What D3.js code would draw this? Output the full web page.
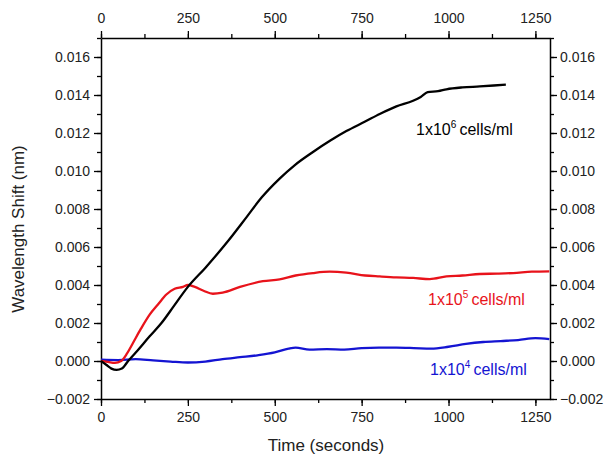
<!DOCTYPE html>
<html>
<head>
<meta charset="utf-8">
<script src="https://cdn.jsdelivr.net/npm/d3@7"></script>
<style>
  body { margin: 0; background: #fff; }
  svg { display: block; font-family: "Liberation Sans", Arial, sans-serif; }
</style>
</head>
<body>
<svg id="chart" width="604" height="454"></svg>
<script>
// ---- Data ----
const xTicks = [0, 250, 500, 750, 1000, 1250];
const yTicks = [-0.002, 0.000, 0.002, 0.004, 0.006, 0.008, 0.010, 0.012, 0.014, 0.016];

const time1e6 = [0, 15, 30, 45, 60, 78, 100, 140, 174, 210, 250, 300, 365, 420, 462, 514, 557, 610, 660, 706, 760, 802, 850, 898, 920, 940, 970, 994, 1040, 1090, 1130, 1165];
const shift1e6 = [0, -0.0002, -0.0004, -0.00047, -0.0004, 0.0, 0.00045, 0.0013, 0.0020, 0.0029, 0.0039, 0.0049, 0.0063, 0.0076, 0.0086, 0.0096, 0.0103, 0.0110, 0.0116, 0.0121, 0.0126, 0.0130, 0.0134, 0.0137, 0.0139, 0.01415, 0.0142, 0.0143, 0.0144, 0.01445, 0.0145, 0.01455];

const time1e5 = [0, 20, 40, 58, 75, 92, 115, 140, 165, 188, 212, 236, 250, 270, 295, 322, 350, 400, 466, 514, 560, 610, 658, 706, 760, 802, 850, 898, 946, 994, 1040, 1090, 1140, 1186, 1240, 1290];
const shift1e5 = [0, -0.00005, -0.0001, 0.0, 0.0004, 0.00095, 0.0017, 0.00244, 0.0030, 0.0035, 0.0038, 0.0039, 0.0040, 0.0039, 0.0037, 0.00354, 0.0036, 0.0039, 0.0042, 0.0043, 0.0045, 0.00463, 0.0047, 0.00465, 0.0045, 0.00445, 0.0044, 0.00437, 0.00431, 0.00445, 0.0045, 0.00458, 0.0046, 0.00463, 0.0047, 0.00472];

const time1e4 = [0, 50, 100, 150, 200, 250, 300, 350, 400, 450, 500, 540, 560, 600, 650, 700, 750, 800, 850, 900, 950, 1000, 1050, 1100, 1150, 1200, 1250, 1290];
const shift1e4 = [0.00007, 0.00005, 0.0001, 0.00003, -0.00003, -0.00008, -0.00003, 0.0001, 0.0002, 0.0003, 0.00045, 0.00065, 0.0007, 0.0006, 0.00062, 0.0006, 0.00068, 0.0007, 0.0007, 0.00068, 0.00065, 0.00075, 0.0009, 0.001, 0.00105, 0.0011, 0.0012, 0.00115];

const seriesColors = ["#000000", "#e8131b", "#1414d2"];

// ---- Layout ----
const svg = d3.select("#chart");
const L = 101, R = 550, T = 38, B = 399;
const FS = 14;

const x = d3.scaleLinear().domain([0, 1292]).range([L, R]);
const y = d3.scaleLinear().domain([-0.002, 0.017]).range([B, T]);

const yFmt = d3.format(".3f");
const xFmt = d3.format("d");
const minorX = d3.range(0, 1292, 125);
const minorY = d3.range(-0.002, 0.0171, 0.001);

function styleAxis(g) {
  g.select(".domain").attr("stroke", "#000").attr("stroke-width", 1.5);
  g.selectAll(".tick line").attr("stroke", "#000").attr("stroke-width", 1.3);
  g.selectAll(".tick text").attr("font-size", FS).attr("fill", "#222")
    .attr("font-family", "Liberation Sans, Arial, sans-serif");
}

// minor ticks
svg.append("g").attr("transform", `translate(0,${B})`)
  .call(d3.axisBottom(x).tickValues(minorX).tickSize(4).tickFormat(""))
  .call(g => { styleAxis(g); g.select(".domain").remove(); });
svg.append("g").attr("transform", `translate(0,${T})`)
  .call(d3.axisTop(x).tickValues(minorX).tickSize(4).tickFormat(""))
  .call(g => { styleAxis(g); g.select(".domain").remove(); });
svg.append("g").attr("transform", `translate(${L},0)`)
  .call(d3.axisLeft(y).tickValues(minorY).tickSize(4).tickFormat(""))
  .call(g => { styleAxis(g); g.select(".domain").remove(); });
svg.append("g").attr("transform", `translate(${R},0)`)
  .call(d3.axisRight(y).tickValues(minorY).tickSize(4).tickFormat(""))
  .call(g => { styleAxis(g); g.select(".domain").remove(); });

// major axes
svg.append("g").attr("transform", `translate(0,${B})`)
  .call(d3.axisBottom(x).tickValues(xTicks).tickSize(7).tickSizeOuter(0).tickPadding(6).tickFormat(xFmt))
  .call(styleAxis);
svg.append("g").attr("transform", `translate(0,${T})`)
  .call(d3.axisTop(x).tickValues(xTicks).tickSize(7).tickSizeOuter(0).tickPadding(8).tickFormat(xFmt))
  .call(styleAxis);
svg.append("g").attr("transform", `translate(${L},0)`)
  .call(d3.axisLeft(y).tickValues(yTicks).tickSize(7).tickSizeOuter(0).tickPadding(4).tickFormat(yFmt))
  .call(styleAxis);
svg.append("g").attr("transform", `translate(${R},0)`)
  .call(d3.axisRight(y).tickValues(yTicks).tickSize(7).tickSizeOuter(0).tickPadding(3).tickFormat(yFmt))
  .call(styleAxis);

// ---- Lines ----
const line = d3.line().x(d => x(d[0])).y(d => y(d[1])).curve(d3.curveMonotoneX);
const allSeries = [
  { t: time1e4, v: shift1e4, c: seriesColors[2] },
  { t: time1e5, v: shift1e5, c: seriesColors[1] },
  { t: time1e6, v: shift1e6, c: seriesColors[0] }
];
allSeries.forEach(s => {
  const pts = s.t.map((t, i) => [t, s.v[i]]);
  svg.append("path").datum(pts)
    .attr("fill", "none").attr("stroke", s.c)
    .attr("stroke-width", 2.3).attr("stroke-linejoin", "round")
    .attr("d", line);
});

// ---- Series labels ----
function label(xp, yp, exp, color) {
  const t = svg.append("text").attr("x", xp).attr("y", yp)
    .attr("font-size", 16).attr("fill", color);
  t.append("tspan").text("1x10");
  t.append("tspan").attr("dy", -7).attr("font-size", 10).text(exp);
  t.append("tspan").attr("dy", 7).text("\u2009cells/ml");
}
label(416, 135, "6", seriesColors[0]);
label(428, 305, "5", seriesColors[1]);
label(430, 375, "4", seriesColors[2]);

// ---- Axis titles ----
svg.append("text").attr("x", 326).attr("y", 451).attr("text-anchor", "middle")
  .attr("font-size", 17).attr("fill", "#222").text("Time (seconds)");
svg.append("text").attr("transform", "translate(24,229) rotate(-90)")
  .attr("text-anchor", "middle").attr("font-size", 17).attr("fill", "#222")
  .text("Wavelength Shift (nm)");
</script>
</body>
</html>
